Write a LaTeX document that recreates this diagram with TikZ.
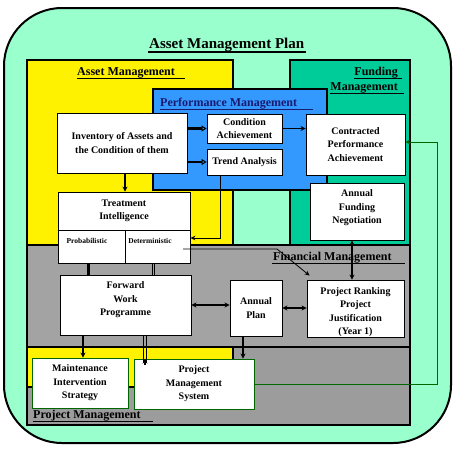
\documentclass[tikz,border=0pt]{standalone}
\usepackage{fontspec}
\setmainfont{Liberation Serif}
\usetikzlibrary{arrows.meta}
\definecolor{mint}{HTML}{99FFCC}
\definecolor{fundgreen}{HTML}{00CC99}
\definecolor{perfblue}{HTML}{3399FF}
\definecolor{fingray}{HTML}{A3A3A3}
\definecolor{pmgray}{HTML}{9C9C9C}
\definecolor{navy}{HTML}{1A1A70}
\definecolor{dkgreen}{HTML}{006600}
\begin{document}
\begin{tikzpicture}[x=1pt,y=-1pt,
  region/.style={draw=black,line width=1.5pt},
  box/.style={draw=black,line width=0.9pt,fill=white,align=center,inner sep=1pt,
    font=\fontsize{10}{13.5}\selectfont\bfseries},
  boxtext/.style={align=center,inner sep=0pt,font=\fontsize{10}{13.5}\selectfont\bfseries},
  smalltext/.style={inner sep=0pt,font=\fontsize{7.5}{8}\selectfont\bfseries},
  sect/.style={inner sep=0pt,font=\fontsize{12}{14}\selectfont\bfseries},
  uline/.style={line width=1pt},
  conn/.style={line width=1.3pt,-{Stealth[length=5pt,width=5pt]}},
  thickopen/.style={line width=2.2pt,-{Triangle[open,length=5pt,width=6pt,line width=1pt]}},
  thinconn/.style={line width=0.8pt,-{Stealth[length=5pt,width=4.5pt]}},
  both/.style={line width=1.3pt,{Stealth[length=5pt,width=5pt]}-{Stealth[length=5pt,width=5pt]}},
  rail/.style={line width=0.7pt},
  greenconn/.style={draw=dkgreen,line width=1pt,-{Stealth[length=5pt,width=5pt]}}]
\useasboundingbox (0,0) rectangle (455,448);
\fill[white] (0,0) rectangle (455,448);
% outer plan
\draw[fill=mint,line width=2pt,rounded corners=58pt] (4,8) rectangle (451,443);
\node[inner sep=0pt,anchor=base west,font=\fontsize{15}{17}\selectfont\bfseries] (title) at (149,48) {Asset Management Plan};
\draw[uline,line width=1.2pt] (148,52) -- (306,52);
% regions
\draw[region,fill=pmgray] (27,347) rectangle (410,425);
\draw[region,line width=1.2pt,fill=yellow] (27,60) rectangle (233,387);
\draw[region,fill=fundgreen] (290,60) rectangle (410,245);
\draw[region,fill=fingray] (27,245) rectangle (410,347);
\draw[region,line width=1.2pt,fill=perfblue] (153,89) rectangle (327,190);
% section labels
\node[sect,anchor=base west] (lam) at (77,75) {Asset Management};
\draw[uline] (lam.base west) ++(0,3) -- ++(108,0);
\node[sect,anchor=base west,text=navy] (lpm) at (160,106) {Performance Management};
\draw[uline,draw=navy] (lpm.base west) ++(0,3) -- ++(153,0);
\node[sect,anchor=base east] (lfm1) at (398,75) {Funding};
\draw[uline] (lfm1.base west) ++(0,3) -- ++(48,0);
\node[sect,anchor=base east] (lfm2) at (398,90) {Management};
\draw[uline] (lfm2.base west) ++(0,3.5) -- ++(74,0);
\node[sect,anchor=base west] (lfin) at (273,260) {Financial Management};
\draw[uline] (lfin.base west) ++(-1,3) -- ++(133,0);
\node[sect,anchor=base west] (lprj) at (33,418) {Project Management};
\draw[uline] (lprj.base west) ++(0,3) -- ++(120,0);
% boxes
\node[box,minimum width=130pt,minimum height=60pt] (inv) at (122,143) {Inventory of Assets and\\the Condition of them};
\node[box,minimum width=75pt,minimum height=29pt] (ca) at (244.5,128.5) {Condition\\Achievement};
\node[box,minimum width=75pt,minimum height=26pt] (ta) at (244.5,162) {Trend Analysis};
\node[box,minimum width=99pt,minimum height=61pt] (cpa) at (355.5,144.5) {Contracted\\Performance\\Achievement};
\node[box,minimum width=94pt,minimum height=57pt] (afn) at (357,211.5) {};
\node[boxtext] (afnt) at (357,208) {Annual\\Funding\\Negotiation};
\node[box,minimum width=132pt,minimum height=38pt] (ti) at (124,211) {Treatment\\Intelligence};
\node[box,minimum width=67pt,minimum height=33pt] (prob) at (91.5,246.5) {};
\node[box,minimum width=65pt,minimum height=33pt] (det) at (157.5,246.5) {};
\node[smalltext] (probt) at (87,241) {Probabilistic};
\node[smalltext] (dett) at (150,241) {Deterministic};
\node[box,minimum width=131pt,minimum height=60pt] (fwp) at (125.5,305) {};
\node[boxtext] (fwpt) at (125.5,300) {Forward\\Work\\Programme};
\node[box,minimum width=52pt,minimum height=56pt] (ap) at (256,308) {Annual\\Plan};
\node[box,minimum width=97pt,minimum height=57pt] (pr) at (355.5,308.5) {};
\node[boxtext] (prt) at (355.5,312) {Project Ranking\\Project\\Justification\\(Year 1)};
\node[box,draw=dkgreen,minimum width=96pt,minimum height=50pt] (mis) at (80,383) {Maintenance\\Intervention\\Strategy};
\node[box,draw=dkgreen,minimum width=120pt,minimum height=50pt] (pms) at (194,384) {Project\\Management\\System};
% connectors
\draw[thickopen] (inv.east |- ca.west) -- (ca.west);
\draw[thickopen] (inv.east |- ta.west) -- (ta.west);
\draw[conn] (ca.east) -- (cpa.west |- ca.east);
\draw[conn] ([xshift=3pt]inv.south) -- ([xshift=3pt]inv.south |- ti.north);
\coordinate (tabend) at (220,238);
\draw[thinconn] (ta.south -| tabend) -- (tabend) -- (det.east |- tabend);
\coordinate (dstart) at (183,249);
\coordinate (dbend) at (277,249);
\draw[thinconn] (dstart) -- (dbend) -- ([xshift=3pt,yshift=4pt]pr.north west);
\draw[both] ([xshift=-5pt]afn.south) -- ([xshift=-5pt]afn.south |- pr.north);
\draw[line width=2.2pt] ([xshift=-3pt]prob.south) -- ([xshift=-3pt]prob.south |- fwp.north);
\draw[rail] ([xshift=-5.2pt]det.south) -- ([xshift=-5.2pt]det.south |- fwp.north);
\draw[rail] ([xshift=-2.8pt]det.south) -- ([xshift=-2.8pt]det.south |- fwp.north);
\draw[both] (fwp.east) -- (fwp.east -| ap.west);
\draw[both] (ap.east) -- (ap.east -| pr.west);
\draw[conn] ([xshift=3pt]mis.north |- fwp.south) -- ([xshift=3pt]mis.north);
\draw[rail] ([xshift=-50.2pt]pms.north |- fwp.south) -- ([xshift=-50.2pt,yshift=-4pt]pms.north);
\draw[rail] ([xshift=-47.8pt]pms.north |- fwp.south) -- ([xshift=-47.8pt,yshift=-4pt]pms.north);
\draw[conn] ([xshift=-49pt,yshift=-6pt]pms.north) -- ([xshift=-49pt]pms.north);
\draw[conn] ([xshift=-13pt]ap.south) -- ([xshift=-13pt]ap.south |- pms.north);
\coordinate (gtop) at (437,142);
\draw[greenconn] (pms.east) -- (pms.east -| gtop) -- (gtop) -- (cpa.east |- gtop);
\end{tikzpicture}
\end{document}
